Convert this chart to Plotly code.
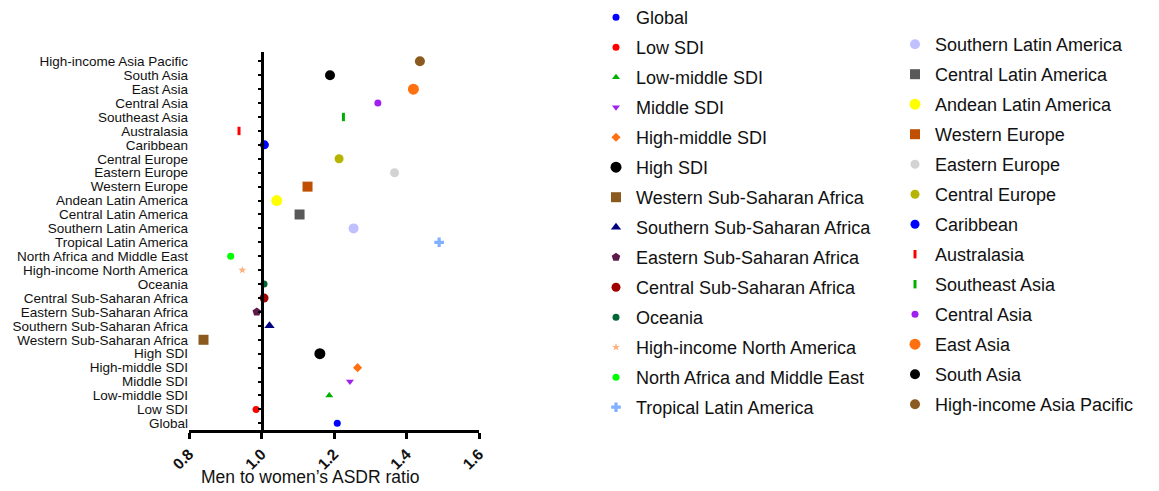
import plotly.graph_objects as go

categories = [
    "Global", "Low SDI", "Low-middle SDI", "Middle SDI", "High-middle SDI", "High SDI",
    "Western Sub-Saharan Africa", "Southern Sub-Saharan Africa", "Eastern Sub-Saharan Africa",
    "Central Sub-Saharan Africa", "Oceania", "High-income North America",
    "North Africa and Middle East", "Tropical Latin America", "Southern Latin America",
    "Central Latin America", "Andean Latin America", "Western Europe", "Eastern Europe",
    "Central Europe", "Caribbean", "Australasia", "Southeast Asia", "Central Asia",
    "East Asia", "South Asia", "High-income Asia Pacific",
]
ratios = [
    1.209, 0.985, 1.187, 1.244, 1.265, 1.161,
    0.840, 1.022, 0.987,
    1.007, 1.007, 0.947,
    0.915, 1.490, 1.254,
    1.105, 1.042, 1.127, 1.367,
    1.214, 1.008, 0.938, 1.226, 1.321,
    1.419, 1.189, 1.437,
]
colors = [
    "#0000ff", "#ff0000", "#00b000", "#a020f0", "#ff7010", "#000000",
    "#8b5a1e", "#000080", "#5c1a4a",
    "#a00000", "#006633", "#ffb07a",
    "#00ff00", "#80b0ff", "#c0c0ff",
    "#595959", "#ffff00", "#c05000", "#d3d3d3",
    "#b5b500", "#0000ff", "#ff0000", "#00b000", "#a020f0",
    "#ff7010", "#000000", "#8b5a1e",
]
symbols = [
    "circle", "circle", "triangle-up", "triangle-down", "diamond", "circle",
    "square", "triangle-up", "pentagon",
    "circle", "circle", "star",
    "circle", "cross", "circle",
    "square", "circle", "square", "circle",
    "circle", "circle", "line-ns", "line-ns", "circle",
    "circle", "circle", "circle",
]
sizes = [
    7, 7, 7, 7, 7, 11,
    10, 9, 9,
    9, 7, 6,
    7, 8, 10,
    10, 11, 10, 9,
    9, 9, 6, 6, 7,
    11, 10, 10,
]
x_ticks = [0.8, 1.0, 1.2, 1.4, 1.6]

FONT = "Liberation Sans, Arial, sans-serif"
fig = go.Figure()
for i, (cat, val, col, sym, sz) in enumerate(zip(categories, ratios, colors, symbols, sizes)):
    marker = dict(color=col, symbol=sym, size=sz, line=dict(width=0, color=col))
    if sym == "line-ns":
        marker["line"] = dict(width=3, color=col)
    fig.add_trace(go.Scatter(
        x=[val], y=[cat], mode="markers", name=cat, marker=marker,
        legendgroup=cat, legend="legend" if i < 14 else "legend2",
        cliponaxis=False,
    ))

yr = [-0.48, 26.67]
fig.update_layout(
    width=1159, height=491,
    margin=dict(l=189, r=680, t=52, b=61, autoexpand=False),
    plot_bgcolor="white", paper_bgcolor="white",
    font=dict(family=FONT, color="#111111"),
    xaxis=dict(
        range=[0.8, 1.6], tickvals=x_ticks, tickformat=".1f", tickangle=-45,
        showline=True, linecolor="black", linewidth=3, ticks="outside", ticklen=6,
        tickwidth=2.5, tickcolor="black", showgrid=False, zeroline=False,
        tickfont=dict(family=FONT, size=15.5, color="#111111", weight="bold"),
    ),
    yaxis=dict(
        type="category", categoryorder="array", categoryarray=categories, range=yr,
        tickmode="array", tickvals=categories, ticktext=categories,
        showline=False, ticks="", showgrid=False, zeroline=False,
        tickfont=dict(family=FONT, size=13.5, color="#111111"),
    ),
    yaxis2=dict(
        overlaying="y", anchor="free", position=0.25, side="left", range=yr,
        tick0=0, dtick=1, showline=True, linecolor="black", linewidth=3,
        ticks="outside", ticklen=3, tickwidth=2, tickcolor="black",
        showticklabels=False, showgrid=False, zeroline=False,
    ),
    legend=dict(
        x=(596 - 189) / 290, y=(430 + 1) / 378, xanchor="left", yanchor="top",
        font=dict(family=FONT, size=18, color="#111111"), tracegroupgap=3.6,
        itemsizing="trace", maxheight=491,
    ),
    legend2=dict(
        x=(895 - 189) / 290, y=(430 - 26) / 378, xanchor="left", yanchor="top",
        font=dict(family=FONT, size=18, color="#111111"), tracegroupgap=3.6,
        itemsizing="trace", maxheight=491,
    ),
    annotations=[dict(
        text="Men to women\u2019s ASDR ratio", xref="paper", yref="paper",
        x=(310.5 - 189) / 290, y=(430 - 477) / 378, xanchor="center", yanchor="middle",
        showarrow=False, font=dict(family=FONT, size=17.5, color="#111111"),
    )],
    showlegend=True,
)
# dummy trace to activate yaxis2
fig.add_trace(go.Scatter(x=[None], y=[None], yaxis="y2", showlegend=False, hoverinfo="skip"))
fig.write_html("out.html")
